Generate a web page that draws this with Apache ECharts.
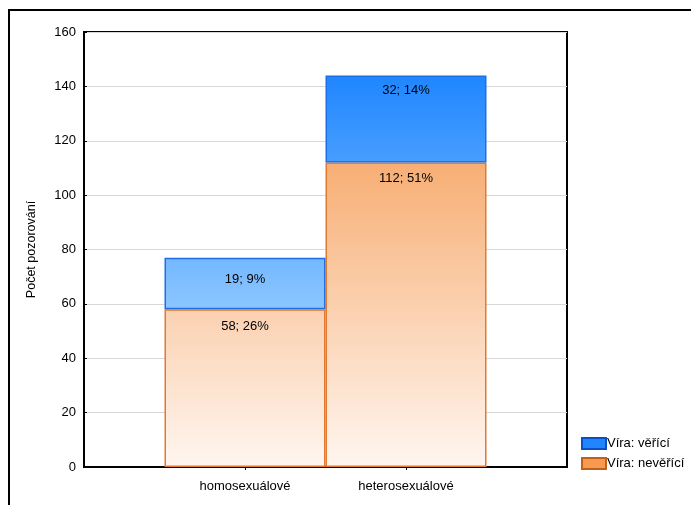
<!DOCTYPE html>
<html>
<head>
<meta charset="utf-8">
<script src="https://cdn.jsdelivr.net/npm/echarts@6/dist/echarts.min.js"></script>
<style>
html,body{margin:0;padding:0;background:#fff;}
#chart{width:691px;height:505px;}
</style>
</head>
<body>
<div id="chart"></div>
<script>
// ---- data ----
var categories = ['homosexuálové', 'heterosexuálové'];
var seriesNames = ['Víra: věřící', 'Víra: nevěřící'];
var neverici = [58, 112];
var verici = [19, 32];
var yTicks = [0, 20, 40, 60, 80, 100, 120, 140, 160];
var yTitle = 'Počet pozorování';

var total = 0;
for (var i = 0; i < categories.length; i++) total += neverici[i] + verici[i];
function pct(v) { return v + '; ' + Math.round(v / total * 100) + '%'; }

// axis positions: blank slot on each side, categories in the middle
var axisCats = [''].concat(categories).concat(['']);
function padded(arr) { return [null].concat(arr).concat([null]); }

var font = 'Liberation Sans, Arial, sans-serif';
var chart = echarts.init(document.getElementById('chart'));

var blueGrad = new echarts.graphic.LinearGradient(0, 75, 0, 310, [
  { offset: 0, color: '#1f86ff' },
  { offset: 1, color: '#8cc6ff' }
], true);
var orangeGrad = new echarts.graphic.LinearGradient(0, 162, 0, 467, [
  { offset: 0, color: '#f7ae74' },
  { offset: 1, color: '#fff6f0' }
], true);

function labelCfg(dist) {
  return {
    show: true, position: 'insideTop', distance: dist,
    fontSize: 13, color: '#000', fontFamily: font,
    formatter: function (p) { return pct(p.value); }
  };
}

var option = {
  animation: false,
  backgroundColor: '#fff',
  textStyle: { fontFamily: font },
  graphic: [{
    type: 'rect',
    shape: { x: 9, y: 10, width: 720, height: 540 },
    style: { fill: 'none', stroke: '#000', lineWidth: 2 },
    silent: true,
    z: 100
  }],
  grid: { left: 84, top: 32, right: 124, bottom: 38, show: true, borderColor: '#000', borderWidth: 2, backgroundColor: 'transparent' },
  legend: {
    orient: 'vertical',
    left: 581,
    top: 437,
    padding: 0,
    icon: 'rect',
    itemWidth: 24,
    itemHeight: 11,
    itemGap: 7,
    textStyle: { fontSize: 13, color: '#000', fontFamily: font, padding: [0, 0, 0, -4] },
    data: [
      { name: seriesNames[0], itemStyle: { color: '#1f86ff', borderColor: '#0a4fc4', borderWidth: 2 } },
      { name: seriesNames[1], itemStyle: { color: '#f79a50', borderColor: '#c0601a', borderWidth: 2 } }
    ]
  },
  xAxis: [{
    type: 'category',
    data: axisCats,
    boundaryGap: false,
    axisLine: { show: true, onZero: false, lineStyle: { color: '#000', width: 2 } },
    axisTick: { show: true, inside: true, length: 3, lineStyle: { color: '#000' },
      interval: function (idx) { return idx > 0 && idx < axisCats.length - 1; } },
    splitLine: { show: false },
    axisLabel: { fontSize: 13, color: '#000', margin: 13, fontFamily: font, interval: 0 }
  }, {
    type: 'category', position: 'top',
    data: axisCats,
    boundaryGap: false,
    axisLine: { show: true, lineStyle: { color: '#000', width: 2 } },
    axisTick: { show: true, inside: true, length: 3, lineStyle: { color: '#000' },
      interval: function (idx) { return idx > 0 && idx < axisCats.length - 1; } },
    splitLine: { show: false },
    axisLabel: { show: false }
  }],
  yAxis: [{
    type: 'value',
    min: yTicks[0], max: yTicks[yTicks.length - 1], interval: 20,
    name: yTitle,
    nameLocation: 'middle',
    nameGap: 46,
    nameTextStyle: { fontSize: 12.5, color: '#000', fontFamily: font },
    axisLine: { show: true, lineStyle: { color: '#000', width: 2 } },
    axisTick: { show: true, inside: true, length: 3, lineStyle: { color: '#000' } },
    splitLine: { show: true, lineStyle: { color: '#d8d8d8', width: 1 } },
    axisLabel: { fontSize: 13, color: '#000', margin: 8, fontFamily: font }
  }],
  series: [{
    name: seriesNames[1],
    type: 'bar',
    stack: 'a',
    barWidth: 161,
    data: padded(neverici).map(function (v, i) {
      return i === 1 ? { value: v, label: { distance: 11 } } : v;
    }),
    itemStyle: { color: orangeGrad, borderColor: '#e07a32', borderWidth: 1.5 },
    label: labelCfg(9)
  }, {
    name: seriesNames[0],
    type: 'bar',
    stack: 'a',
    barWidth: 161,
    data: padded(verici).map(function (v, i) {
      return i === 1 ? { value: v, label: { distance: 15 } } : v;
    }),
    itemStyle: { color: blueGrad, borderColor: '#1e6fe6', borderWidth: 1.5 },
    label: labelCfg(8)
  }]
};
chart.setOption(option);
</script>
</body>
</html>
